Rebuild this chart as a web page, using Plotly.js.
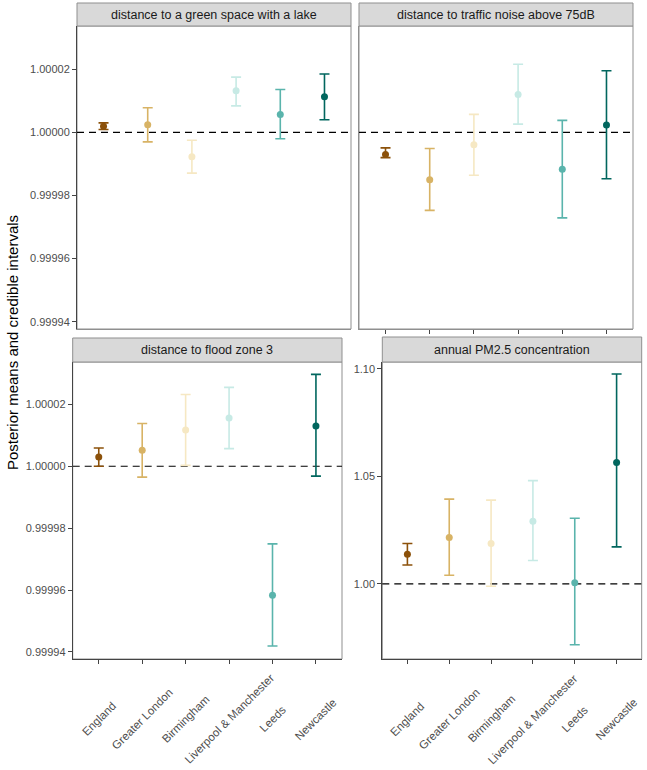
<!DOCTYPE html>
<html>
<head>
<meta charset="utf-8">
<script src="https://cdn.plot.ly/plotly-3.0.1.min.js"></script>
<style>
  html, body { margin: 0; padding: 0; background: #fff; }
  #chart { width: 647px; height: 770px; }
</style>
</head>
<body>
<div id="chart"></div>
<script>
// Regions and their BrBG colours
const regions = ["England", "Greater London", "Birmingham", "Liverpool & Manchester", "Leeds", "Newcastle"];
const colours = ["#8c510a", "#d8b365", "#f6e8c3", "#c7eae5", "#5ab4ac", "#01665e"];

// distance to a green space with a lake
const lakeMean = [1.0000019, 1.0000024, 0.9999923, 1.0000132, 1.0000057, 1.0000113];
const lakeLow  = [1.0000009, 0.9999970, 0.9999871, 1.0000084, 0.9999980, 1.0000040];
const lakeHigh = [1.0000030, 1.0000078, 0.9999975, 1.0000175, 1.0000136, 1.0000185];

// distance to traffic noise above 75dB
const noiseMean = [0.9999930, 0.9999850, 0.9999961, 1.0000120, 0.9999883, 1.0000023];
const noiseLow  = [0.9999920, 0.9999753, 0.9999864, 1.0000026, 0.9999729, 0.9999853];
const noiseHigh = [0.9999951, 0.9999949, 1.0000057, 1.0000216, 1.0000038, 1.0000195];

// distance to flood zone 3
const floodMean = [1.0000030, 1.0000052, 1.0000117, 1.0000156, 0.9999583, 1.0000130];
const floodLow  = [1.0000000, 0.9999965, 1.0000003, 1.0000057, 0.9999419, 0.9999968];
const floodHigh = [1.0000059, 1.0000138, 1.0000232, 1.0000255, 0.9999749, 1.0000297];

// annual PM2.5 concentration
const pmMean = [1.0138, 1.0216, 1.0188, 1.0291, 1.0005, 1.0564];
const pmLow  = [1.0088, 1.0040, 0.9989, 1.0109, 0.9717, 1.0172];
const pmHigh = [1.0188, 1.0394, 1.0389, 1.0480, 1.0305, 1.0975];

const smallTicks = [0.99994, 0.99996, 0.99998, 1.00000, 1.00002];
const smallTickText = ["0.99994", "0.99996", "0.99998", "1.00000", "1.00002"];
const pmTicks = [1.00, 1.05, 1.10];
const pmTickText = ["1.00", "1.05", "1.10"];

const W = 647, H = 770;
const px = (v) => v / W;
const py = (v) => 1 - v / H;
const FONT = "Liberation Sans, Arial, sans-serif";

const panels = [
  { title: "distance to a green space with a lake", mean: lakeMean, low: lakeLow, high: lakeHigh,
    xa: "x", ya: "y", box: [77, 26, 351, 329], strip: [3, 26] },
  { title: "distance to traffic noise above 75dB", mean: noiseMean, low: noiseLow, high: noiseHigh,
    xa: "x2", ya: "y2", box: [359, 26, 633, 329], strip: [3, 26] },
  { title: "distance to flood zone 3", mean: floodMean, low: floodLow, high: floodHigh,
    xa: "x3", ya: "y3", box: [72.7, 362, 342, 659], strip: [338, 362], labels: true },
  { title: "annual PM2.5 concentration", mean: pmMean, low: pmLow, high: pmHigh,
    xa: "x4", ya: "y4", box: [382.3, 362, 641.7, 659], strip: [337, 362], labels: true },
];

const traces = [];
panels.forEach((p) => {
  regions.forEach((r, i) => {
    traces.push({
      x: [r],
      y: [p.mean[i]],
      type: "scatter",
      mode: "markers",
      xaxis: p.xa,
      yaxis: p.ya,
      marker: { color: colours[i], size: 7 },
      error_y: {
        type: "data",
        symmetric: false,
        array: [p.high[i] - p.mean[i]],
        arrayminus: [p.mean[i] - p.low[i]],
        color: colours[i],
        thickness: 1.6,
        width: 5,
      },
      showlegend: false,
      hoverinfo: "skip",
    });
  });
});

const tickFont = { family: FONT, size: 11, color: "#4d4d4d" };
const xLabelFont = { family: FONT, size: 11.5, color: "#4d4d4d" };
const smallRange = [0.9999377, 1.0000337];

function xAxis(p, opts) {
  return Object.assign({
    domain: [px(p.box[0]), px(p.box[2])],
    anchor: p.ya,
    type: "category",
    categoryorder: "array",
    categoryarray: regions,
    range: [-0.6, 5.6],
    showgrid: false,
    zeroline: false,
    showline: true,
    linecolor: "#444",
    linewidth: 1,
    ticks: "outside",
    ticklen: 4,
    tickcolor: "#444",
    showticklabels: false,
    fixedrange: true,
  }, opts);
}

function yAxis(p, opts) {
  return Object.assign({
    domain: [py(p.box[3]), py(p.box[1])],
    anchor: p.xa,
    range: smallRange,
    tickmode: "array",
    tickvals: smallTicks,
    ticktext: smallTickText,
    showgrid: false,
    zeroline: false,
    showline: true,
    linecolor: "#444",
    linewidth: 1,
    ticks: "outside",
    ticklen: 4,
    tickcolor: "#444",
    tickfont: tickFont,
    fixedrange: true,
  }, opts);
}

const shapes = [];
const annotations = [];
panels.forEach((p) => {
  // panel border
  shapes.push({
    type: "rect", xref: "paper", yref: "paper",
    x0: px(p.box[0]), x1: px(p.box[2]), y0: py(p.box[3]), y1: py(p.box[1]),
    line: { color: "#8f8f8f", width: 1 }, fillcolor: "rgba(0,0,0,0)", layer: "below",
  });
  // strip
  shapes.push({
    type: "rect", xref: "paper", yref: "paper",
    x0: px(p.box[0]), x1: px(p.box[2]), y0: py(p.strip[1]), y1: py(p.strip[0]),
    line: { color: "#8f8f8f", width: 1 }, fillcolor: "#d9d9d9",
  });
  annotations.push({
    xref: "paper", yref: "paper",
    x: px((p.box[0] + p.box[2]) / 2), y: py((p.strip[0] + p.strip[1]) / 2),
    text: p.title, showarrow: false, xanchor: "center", yanchor: "middle",
    font: { family: FONT, size: 12.5, color: "#1a1a1a" },
  });
  // reference line at 1
  shapes.push({
    type: "line", xref: p.xa + " domain", yref: p.ya,
    x0: 0, x1: 1, y0: 1, y1: 1,
    line: { color: "#000", width: 1.2, dash: "7px,5px" }, layer: "below",
  });
  // rotated category labels, centred under each tick
  if (p.labels) {
    regions.forEach((r) => {
      annotations.push({
        xref: p.xa, yref: "paper", x: r, y: py(719),
        text: r, textangle: -45, showarrow: false,
        xanchor: "center", yanchor: "middle",
        font: xLabelFont,
      });
    });
  }
});

annotations.push({
  xref: "paper", yref: "paper", x: px(12), y: py(343),
  text: "Posterior means and credible intervals", textangle: -90, showarrow: false,
  xanchor: "center", yanchor: "middle",
  font: { family: FONT, size: 15, color: "#000" },
});

const layout = {
  width: W,
  height: H,
  margin: { l: 0, r: 0, t: 0, b: 0 },
  paper_bgcolor: "#fff",
  plot_bgcolor: "rgba(0,0,0,0)",
  showlegend: false,
  font: { family: FONT },
  xaxis: xAxis(panels[0], { ticks: "", linecolor: "#8f8f8f" }),
  yaxis: yAxis(panels[0]),
  xaxis2: xAxis(panels[1], { linecolor: "#8f8f8f" }),
  yaxis2: yAxis(panels[1], { ticks: "", showticklabels: false, linecolor: "#8f8f8f" }),
  xaxis3: xAxis(panels[2]),
  yaxis3: yAxis(panels[2]),
  xaxis4: xAxis(panels[3]),
  yaxis4: yAxis(panels[3], { range: [0.9651, 1.1031], tickvals: pmTicks, ticktext: pmTickText }),
  shapes: shapes,
  annotations: annotations,
};

Plotly.newPlot("chart", traces, layout, { displayModeBar: false, staticPlot: true });
</script>
</body>
</html>
